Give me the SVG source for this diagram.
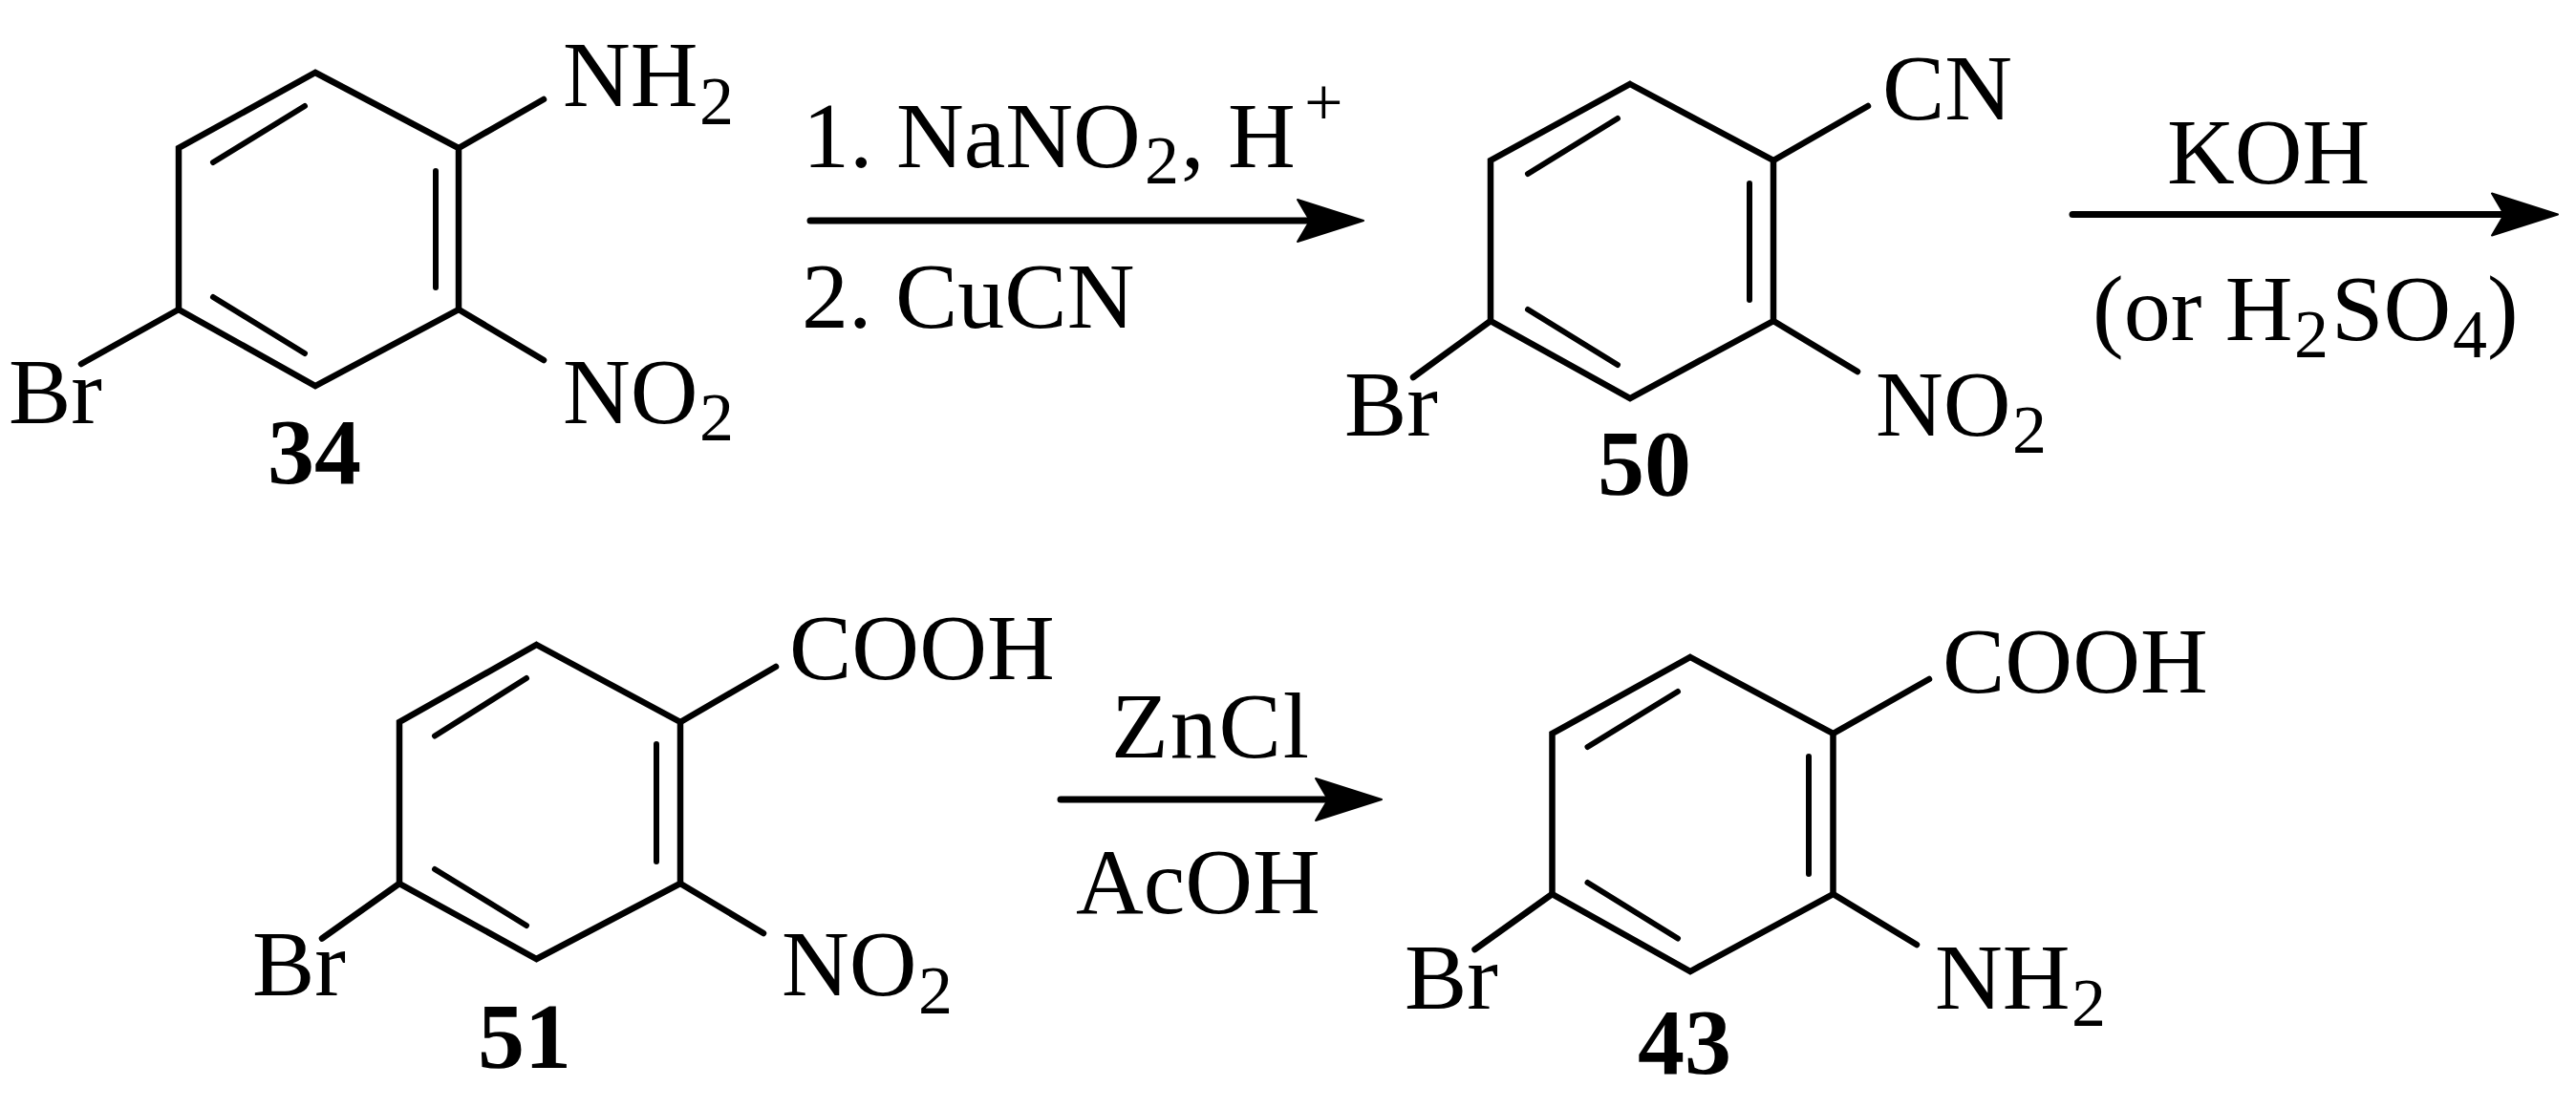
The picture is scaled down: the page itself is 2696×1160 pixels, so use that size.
<svg xmlns="http://www.w3.org/2000/svg" width="2696" height="1160" viewBox="0 0 2696 1160">
<defs>
<style>
text{font-family:"Liberation Serif","Times New Roman",serif;font-size:98px;fill:#000}
.b{font-weight:bold}
.s{font-size:72px}
.bond{fill:none;stroke:#000;stroke-width:6.5;stroke-linecap:round;stroke-linejoin:miter}
.in{fill:none;stroke:#000;stroke-width:6;stroke-linecap:round}
.arrow{fill:none;stroke:#000;stroke-width:7;stroke-linecap:round}
</style>
<marker id="head" markerUnits="userSpaceOnUse" markerWidth="72" markerHeight="48" refX="14" refY="24" orient="auto">
<path d="M1 2L70 24L1 46L14 24Z" fill="#000" stroke="#000" stroke-width="2" stroke-linejoin="round"/>
</marker>
</defs>
<rect width="2696" height="1160" fill="#fff"/>
<g id="connectors">
<line class="arrow" x1="848" y1="231" x2="1371" y2="231" marker-end="url(#head)"/>
<line class="arrow" x1="2169" y1="224.500" x2="2621" y2="224.500" marker-end="url(#head)"/>
<line class="arrow" x1="1110" y1="837" x2="1390" y2="837" marker-end="url(#head)"/>
</g>
<g id="node-34">
<path class="bond" d="M330 76L480 155V324L330 404L187 324V155Z"/>
<path class="bond" d="M480 155L569 104M480 324L569 377M187 324L85 381"/>
<path class="in" d="M319 111L223 170M456 179V301M223 311L319 370"/>
<text x="589" y="111">NH</text><text class="s" x="732" y="130">2</text>
<text x="589" y="443">NO</text><text class="s" x="732" y="461">2</text>
<text x="9" y="443">Br</text>
<text class="b" x="280" y="506">34</text>
</g>
<g id="reagents-1">
<text x="840" y="175">1. NaNO</text><text class="s" x="1198" y="192">2</text><text x="1236" y="175">, H</text><text class="s" x="1365" y="131">+</text>
<text x="839" y="343">2. CuCN</text>
</g>
<g id="node-50">
<path class="bond" d="M1706 88L1856 168V336L1706 417L1560 336V168Z"/>
<path class="bond" d="M1856 168L1955 111M1856 336L1944 389M1560 336L1479 395"/>
<path class="in" d="M1693 124L1599 182M1831 192V314M1599 324L1693 382"/>
<text x="1970" y="125">CN</text>
<text x="1963" y="456">NO</text><text class="s" x="2106" y="474">2</text>
<text x="1407" y="456">Br</text>
<text class="b" x="1672" y="518">50</text>
</g>
<g id="reagents-2">
<text x="2268" y="192">KOH</text>
<text x="2190" y="356">(or H</text><text class="s" x="2401" y="374">2</text><text x="2440" y="356">SO</text><text class="s" x="2567" y="374">4</text><text x="2603" y="356">)</text>
</g>
<g id="node-51">
<path class="bond" d="M561.500 675L712 756V925L561.500 1004L418 925V756Z"/>
<path class="bond" d="M712 756L812 698M712 925L799 977M418 925L337 982.500"/>
<path class="in" d="M551 710L455 770.500M687 779V902M455 910L551 969"/>
<text x="826" y="711">COOH</text>
<text x="818" y="1042">NO</text><text class="s" x="961" y="1061">2</text>
<text x="264" y="1042">Br</text>
<text class="b" x="500" y="1118">51</text>
</g>
<g id="reagents-3">
<text x="1163" y="793" textLength="207">ZnCl</text>
<text x="1126" y="956">AcOH</text>
</g>
<g id="node-43">
<path class="bond" d="M1769 688L1918.500 768V936L1769 1017L1624.500 936V768Z"/>
<path class="bond" d="M1918.500 768L2019 711M1918.500 936L2006 989M1624.500 936L1543.500 994"/>
<path class="in" d="M1756 724L1661.500 782M1893 792V915M1661.500 924L1756 982.500"/>
<text x="2033" y="725">COOH</text>
<text x="2025" y="1055.500">NH</text><text class="s" x="2168" y="1074">2</text>
<text x="1470" y="1055.500">Br</text>
<text class="b" x="1714" y="1124">43</text>
</g>
</svg>
